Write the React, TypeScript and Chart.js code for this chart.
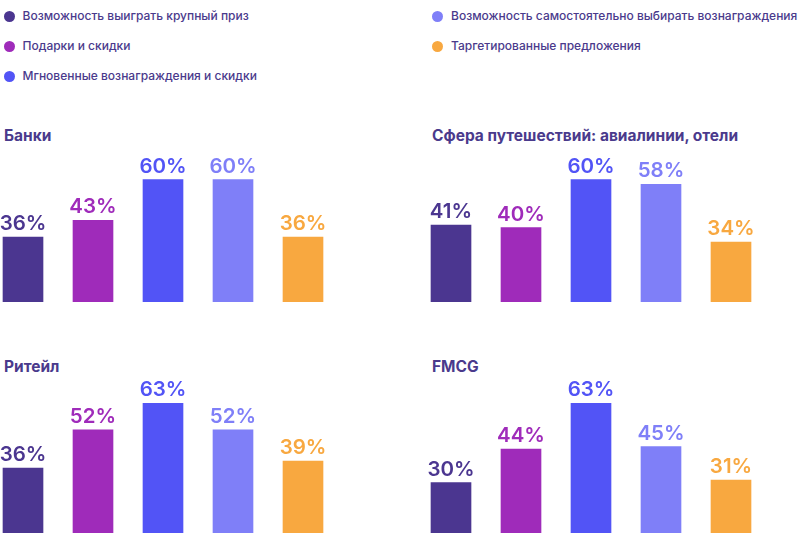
import React, { useEffect, useRef } from 'react';
import { Chart, registerables } from 'chart.js';

Chart.register(...registerables);

const seriesNames = [
  'Возможность выиграть крупный приз',
  'Подарки и скидки',
  'Мгновенные вознаграждения и скидки',
  'Возможность самостоятельно выбирать вознаграждения',
  'Таргетированные предложения',
];
const seriesColors = ['#4B3690', '#9F2BBA', '#5254F6', '#7F7FF8', '#F8A840'];
const panelTitles = ['Банки', 'Сфера путешествий: авиалинии, отели', 'Ритейл', 'FMCG'];
const banksValues = [36, 43, 60, 60, 36];
const travelValues = [41, 40, 60, 58, 34];
const retailValues = [36, 52, 63, 52, 39];
const fmcgValues = [30, 44, 63, 45, 31];
const axisMin = 9;
const axisMax = 69;

const FONT = 'Inter, "Noto Sans", sans-serif';
const TEXT_COLOR = '#4A3A8C';

const valueLabelPlugin = {
  id: 'valueLabels',
  afterDatasetsDraw(chart: any) {
    const ctx = chart.ctx;
    const ds = chart.data.datasets[0];
    const meta = chart.getDatasetMeta(0);
    ctx.save();
    ctx.font = `600 20.5px ${FONT}`;
    ctx.textAlign = 'center';
    ctx.textBaseline = 'alphabetic';
    meta.data.forEach((el: any, i: number) => {
      ctx.fillStyle = seriesColors[i];
      ctx.fillText(`${ds.data[i]}%`, el.x, el.y - 7);
    });
    ctx.restore();
  },
};

type PanelProps = { title: string; values: number[]; canvasLeft: number; titleLeft: number; bottom: number };

function Panel({ title, values, canvasLeft, titleLeft, bottom }: PanelProps) {
  const ref = useRef<HTMLCanvasElement | null>(null);
  useEffect(() => {
    if (!ref.current) return;
    const chart = new Chart(ref.current, {
      type: 'bar',
      data: {
        labels: seriesNames,
        datasets: [
          {
            data: values,
            backgroundColor: seriesColors,
            borderWidth: 0,
            barThickness: 40,
            base: axisMin,
          } as any,
        ],
      },
      options: {
        animation: false,
        responsive: true,
        maintainAspectRatio: false,
        layout: { padding: { top: 26, bottom: 0, left: 0, right: 0 } },
        plugins: { legend: { display: false }, tooltip: { enabled: false }, title: { display: false } },
        scales: {
          x: { display: false },
          y: { display: false, min: axisMin, max: axisMax },
        },
      },
      plugins: [valueLabelPlugin],
    });
    return () => chart.destroy();
  }, [values]);
  const canvasHeight = 170;
  return (
    <>
      <div
        style={{
          position: 'absolute',
          left: titleLeft,
          top: bottom - 174,
          fontFamily: FONT,
          fontWeight: 700,
          fontSize: 15.5,
          lineHeight: '16px',
          color: TEXT_COLOR,
          whiteSpace: 'nowrap',
        }}
      >
        {title}
      </div>
      <div style={{ position: 'absolute', left: canvasLeft, top: bottom - canvasHeight, width: 350, height: canvasHeight }}>
        <canvas ref={ref} />
      </div>
    </>
  );
}

function LegendItem({ i, left, top }: { i: number; left: number; top: number }) {
  return (
    <div style={{ position: 'absolute', left, top: top - 8, height: 16, display: 'flex', alignItems: 'center', whiteSpace: 'nowrap' }}>
      <span
        style={{
          display: 'inline-block',
          width: 11,
          height: 11,
          borderRadius: '50%',
          background: seriesColors[i],
          marginRight: 8,
        }}
      />
      <span style={{ fontFamily: FONT, fontWeight: 500, fontSize: 12, color: TEXT_COLOR, lineHeight: '16px' }}>
        {seriesNames[i]}
      </span>
    </div>
  );
}

export default function App() {
  return (
    <div style={{ position: 'fixed', left: 0, top: 0, width: 803, height: 548, background: '#fff', overflow: 'hidden' }}>
      <LegendItem i={0} left={3.5} top={16} />
      <LegendItem i={1} left={3.5} top={46} />
      <LegendItem i={2} left={3.5} top={76} />
      <LegendItem i={3} left={432} top={16} />
      <LegendItem i={4} left={432} top={46} />
      <Panel title={panelTitles[0]} values={banksValues} canvasLeft={-12} titleLeft={4} bottom={302} />
      <Panel title={panelTitles[1]} values={travelValues} canvasLeft={416} titleLeft={432} bottom={302} />
      <Panel title={panelTitles[2]} values={retailValues} canvasLeft={-12} titleLeft={4} bottom={533} />
      <Panel title={panelTitles[3]} values={fmcgValues} canvasLeft={416} titleLeft={432} bottom={533} />
    </div>
  );
}
